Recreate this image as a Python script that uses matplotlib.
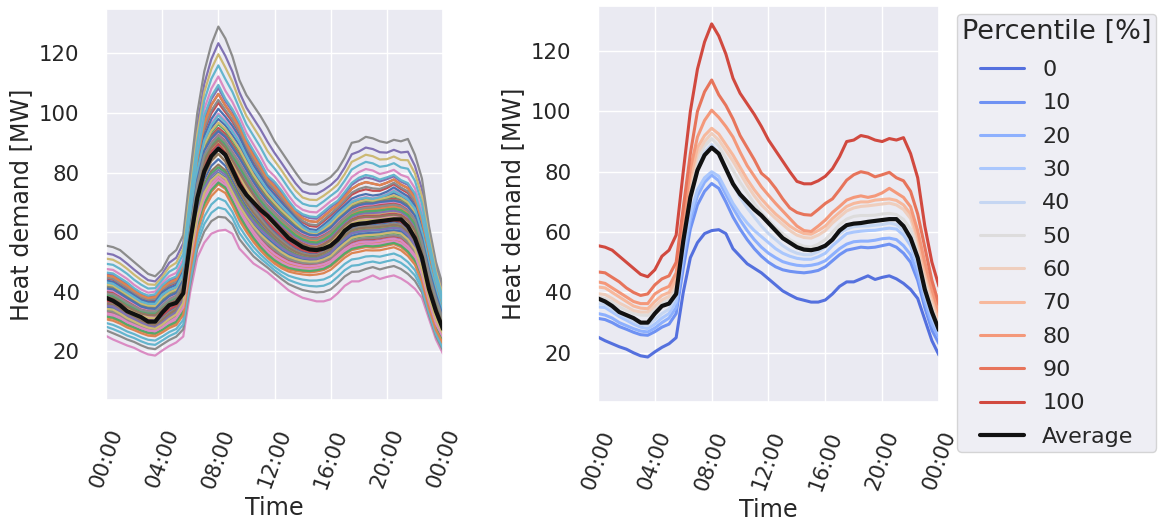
import numpy as np
import matplotlib
matplotlib.use("Agg")
import matplotlib.pyplot as plt
import seaborn as sns

# time axis in hours (30-min resolution)
hours = np.arange(0, 24.01, 0.5)

p0 = [25.2, 24.0, 23.0, 22.0, 21.2, 20.0, 19.0, 18.6, 20.3, 21.8, 23.0, 25.0, 40.0, 51.5, 56.5, 59.5, 60.5,
      60.8, 59.5, 54.5, 52.0, 49.5, 48.0, 46.5, 44.5, 42.5, 40.5, 39.2, 38.0, 37.4, 36.8, 36.8, 37.5, 39.5,
      42.0, 43.5, 43.5, 44.5, 45.5, 44.3, 45.0, 45.5, 44.5, 43.0, 41.0, 38.0, 31.0, 24.0, 19.2]
p10 = [31.4, 31.0, 30.0, 28.7, 27.8, 26.8, 26.0, 25.8, 27.0, 28.5, 29.5, 33.0, 48.0, 61.0, 69.0, 73.5, 76.1,
       74.5, 70.0, 65.0, 61.0, 57.5, 54.5, 52.0, 50.0, 48.5, 47.5, 47.0, 46.7, 46.5, 46.8, 47.3, 48.5, 50.5,
       52.5, 54.0, 54.5, 55.0, 54.8, 55.0, 55.5, 56.0, 55.0, 53.0, 50.0, 44.0, 35.0, 27.5, 23.0]
p20 = [33.0, 32.5, 31.5, 30.0, 29.0, 28.0, 27.2, 26.9, 28.2, 30.0, 31.5, 35.0, 51.0, 64.0, 72.0, 76.5, 78.9,
       77.0, 72.5, 68.0, 64.0, 60.5, 57.5, 55.0, 53.0, 51.5, 50.2, 49.5, 49.0, 48.8, 49.0, 49.5, 50.5, 52.5,
       54.5, 56.0, 56.8, 57.0, 57.0, 57.3, 57.8, 58.0, 57.5, 55.5, 52.5, 46.0, 37.0, 29.5, 25.0]
p30 = [35.2, 35.0, 33.5, 32.0, 30.8, 29.5, 28.5, 28.0, 29.5, 31.5, 33.0, 37.0, 53.0, 66.0, 74.0, 78.0, 80.0,
       78.5, 74.0, 69.5, 66.0, 63.0, 60.5, 58.5, 56.5, 54.5, 53.0, 52.0, 51.3, 51.0, 51.0, 51.8, 53.0, 55.5,
       57.5, 59.5, 60.0, 60.3, 60.5, 60.6, 61.0, 61.3, 61.0, 59.0, 55.5, 48.5, 39.0, 31.5, 26.5]
p40 = [36.3, 36.0, 34.5, 33.0, 31.8, 30.5, 29.5, 29.1, 31.0, 33.0, 34.5, 39.0, 57.0, 72.0, 81.5, 86.5, 89.0,
       86.0, 81.0, 76.0, 71.5, 68.0, 65.0, 62.0, 59.5, 57.5, 55.5, 54.0, 53.0, 52.5, 52.5, 53.5, 55.0, 57.5,
       59.5, 61.0, 61.8, 62.0, 62.0, 62.3, 62.5, 63.0, 62.5, 60.5, 57.0, 50.0, 40.0, 33.0, 28.0]
p50 = [38.5, 38.0, 36.8, 35.2, 34.0, 33.0, 32.5, 32.4, 34.5, 36.5, 37.5, 42.0, 60.0, 74.5, 84.0, 88.5, 91.0,
       88.5, 84.5, 80.5, 76.5, 73.0, 69.5, 66.5, 64.0, 61.5, 59.5, 57.5, 56.2, 55.3, 55.0, 56.0, 57.5, 60.0,
       62.5, 64.3, 65.2, 65.5, 65.5, 65.6, 66.0, 66.2, 65.8, 64.2, 61.0, 54.5, 44.0, 35.5, 29.0]
p60 = [39.6, 39.3, 38.0, 36.5, 35.3, 34.0, 33.5, 33.5, 35.5, 37.5, 38.7, 43.0, 61.0, 76.5, 86.0, 90.0, 92.7,
       90.5, 87.0, 83.5, 79.5, 75.5, 72.0, 69.0, 66.7, 64.5, 62.5, 60.5, 59.0, 58.2, 58.0, 59.0, 60.5, 63.0,
       65.0, 67.0, 68.0, 68.5, 68.7, 69.0, 69.3, 69.6, 69.0, 67.5, 64.5, 57.0, 46.5, 38.0, 31.0]
p70 = [41.8, 41.5, 40.0, 38.5, 37.0, 35.5, 34.8, 34.6, 37.0, 39.0, 40.0, 44.5, 62.0, 78.0, 88.0, 92.0, 94.4,
       92.5, 89.0, 85.5, 81.5, 77.5, 74.0, 71.0, 68.4, 66.0, 64.0, 62.0, 60.5, 59.5, 59.3, 60.5, 62.0, 64.5,
       66.5, 68.5, 69.5, 70.0, 70.0, 70.6, 70.8, 71.0, 70.5, 69.0, 66.0, 58.5, 48.0, 39.5, 32.0]
p80 = [43.5, 43.0, 41.5, 40.0, 38.5, 37.0, 36.3, 36.3, 39.5, 41.0, 42.0, 46.5, 64.0, 81.0, 91.5, 97.0, 100.4,
       98.0, 95.0, 91.5, 86.5, 82.0, 78.5, 75.0, 72.2, 69.5, 67.0, 64.5, 62.0, 60.5, 60.2, 62.0, 64.0, 66.5,
       68.5, 70.6, 71.5, 72.0, 71.5, 72.0, 73.0, 74.5, 73.0, 71.5, 68.4, 60.5, 50.0, 41.0, 33.5]
p90 = [46.8, 46.5, 45.0, 43.5, 41.5, 40.0, 39.0, 39.5, 42.5, 44.5, 45.5, 50.0, 68.0, 86.0, 100.0, 106.5, 110.4,
       105.5, 102.0, 97.5, 92.0, 88.0, 84.0, 79.5, 77.5, 74.5, 71.0, 68.0, 66.5, 65.8, 65.6, 67.5, 69.5, 71.0,
       74.0, 77.2, 79.0, 80.0, 79.5, 78.3, 79.0, 79.8, 78.0, 77.0, 73.5, 66.0, 55.0, 44.0, 36.0]
p100 = [55.5, 55.0, 54.0, 52.0, 50.0, 48.0, 46.0, 45.2, 47.5, 52.0, 54.0, 59.0, 80.0, 100.0, 114.0, 123.0, 129.0,
        125.0, 119.0, 111.0, 106.0, 102.5, 99.0, 95.0, 90.5, 87.0, 83.5, 80.0, 76.8, 76.0, 76.0, 77.0, 78.5, 81.0,
        85.0, 90.0, 90.5, 92.0, 91.5, 90.5, 90.0, 91.0, 90.5, 91.3, 86.0, 78.0, 62.0, 50.0, 42.0]
average = [38.0, 37.0, 35.5, 33.5, 32.5, 31.5, 30.0, 30.0, 33.0, 35.5, 36.3, 39.5, 57.0, 71.5, 80.5, 85.5, 88.0,
           86.0, 81.0, 76.0, 72.5, 70.0, 67.5, 65.5, 63.0, 60.5, 58.0, 56.5, 55.0, 54.2, 54.0, 54.5, 55.5, 57.5,
           60.5, 62.3, 62.8, 63.0, 63.4, 63.7, 64.0, 64.3, 64.3, 62.0, 58.0, 51.5, 41.0, 33.5, 27.5]

percentile_levels = [0, 10, 20, 30, 40, 50, 60, 70, 80, 90, 100]
percentile_curves = [p0, p10, p20, p30, p40, p50, p60, p70, p80, p90, p100]

# position of each individual day within the daily distribution (left panel)
day_rank = [0.55, 0.48, 0.62, 0.83, 0.97, 0.40, 0.00, 1.00, 0.95, 0.30,
            0.35, 0.10, 0.25, 0.71, 0.88, 0.58, 0.91, 0.03, 0.52, 0.07,
            0.76, 0.66, 0.45, 0.86, 0.20, 0.33, 0.79, 0.69, 0.13, 0.60,
            0.42, 0.17, 0.73, 0.50, 0.64, 0.27, 0.47, 0.84, 0.37, 0.93,
            0.81, 0.57, 0.32, 0.22, 0.44, 0.68, 0.15, 0.39, 0.74, 0.05,
            0.28, 0.86, 0.12, 0.61, 0.53, 0.37, 0.65, 0.23, 0.46, 0.78,
            0.67, 0.09, 0.55, 0.43, 0.31, 0.49, 0.19, 0.59, 0.26, 0.89]

tick_hours = [0, 4, 8, 12, 16, 20, 24]
tick_labels = ["00:00", "04:00", "08:00", "12:00", "16:00", "20:00", "00:00"]
y_ticks = [20, 40, 60, 80, 100, 120]

sns.set_theme(style="darkgrid")
plt.rcParams['font.family'] = ['DejaVu Sans']
TICK_FS = 15.3
LABEL_FS = 17.2
LEG_FS = 16
TITLE_FS = 19.5

fig = plt.figure(figsize=(11.6, 5.23), dpi=100)
ax1 = fig.add_axes([0.0914, 0.2352, 0.2905, 0.7476])
ax2 = fig.add_axes([0.5155, 0.2314, 0.294, 0.757])

P = np.array(percentile_curves)  # (11, T)
for r in day_rank:
    day = [np.interp(r * 100, percentile_levels, P[:, t]) for t in range(P.shape[1])]
    ax1.plot(hours, day, lw=1.6)
ax1.plot(hours, average, color="#111111", lw=3)

colors = sns.color_palette("coolwarm", len(percentile_levels))
for lvl, curve, c in zip(percentile_levels, percentile_curves, colors):
    ax2.plot(hours, curve, color=c, lw=2.2, label=str(lvl))
ax2.plot(hours, average, color="#111111", lw=3, label="Average")

for ax in (ax1, ax2):
    ax.set_xlim(0, 24)
    ax.set_ylim(3.7, 134.9)
    ax.set_xticks(tick_hours)
    ax.set_xticklabels(tick_labels, rotation=70, fontsize=TICK_FS)
    ax.set_yticks(y_ticks)
    ax.set_yticklabels([str(v) for v in y_ticks], fontsize=TICK_FS)
    ax.tick_params(axis="both", which="major", pad=13)
    ax.set_xlabel("Time", fontsize=LABEL_FS)
    ax.set_ylabel("Heat demand [MW]", fontsize=LABEL_FS)

anchor_x, anchor_y = 1.053, 0.992
leg = ax2.legend(title="Percentile [%]", loc="upper left", bbox_to_anchor=(anchor_x, anchor_y),
                 borderaxespad=0, fontsize=LEG_FS, title_fontsize=TITLE_FS,
                 labelspacing=0.6, borderpad=0.22)

# fine-tune the legend layout to the measured target pixel positions
H = fig.bbox.height


def center_from_top(artist, renderer):
    bb = artist.get_window_extent(renderer)
    return H - (bb.y0 + bb.y1) / 2


fig.canvas.draw()
rend = fig.canvas.get_renderer()
gap = center_from_top(leg.get_texts()[0], rend) - center_from_top(leg.get_title(), rend)
leg._legend_box.sep = leg._legend_box.sep + (38.3 - gap) * 72.0 / fig.dpi
fig.canvas.draw()
title_y = center_from_top(leg.get_title(), rend)
ax_h = ax2.get_window_extent(rend).height
anchor_y = anchor_y - (31.7 - title_y) / ax_h
leg.set_bbox_to_anchor((anchor_x, anchor_y), transform=ax2.transAxes)

fig.savefig("out.png", dpi=100)
